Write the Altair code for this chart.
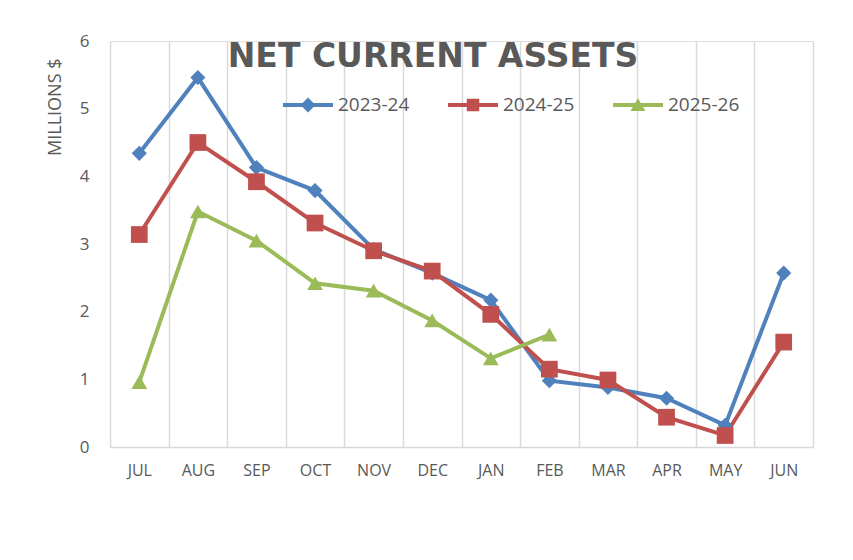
import altair as alt
import pandas as pd

months = ["JUL", "AUG", "SEP", "OCT", "NOV", "DEC", "JAN", "FEB", "MAR", "APR", "MAY", "JUN"]
series_names = ["2023-24", "2024-25", "2025-26"]
v_2023_24 = [4.34, 5.46, 4.13, 3.79, 2.92, 2.57, 2.17, 0.98, 0.88, 0.72, 0.32, 2.57]
v_2024_25 = [3.14, 4.50, 3.92, 3.31, 2.90, 2.60, 1.96, 1.15, 0.99, 0.44, 0.17, 1.55]
v_2025_26 = [0.96, 3.48, 3.05, 2.42, 2.31, 1.87, 1.31, 1.66]
colors = ["#4f81bd", "#c0504d", "#9bbb59"]
marker_shapes = ["diamond", "square", "triangle-up"]
chart_title = "NET CURRENT ASSETS"

rows = []
for name, vals in zip(series_names, [v_2023_24, v_2024_25, v_2025_26]):
    for m, v in zip(months, vals):
        rows.append({"month": m, "value": v, "series": name})
df = pd.DataFrame(rows)

TXT = "#595959"
GRID = "#d9d9d9"
FONT = "Open Sans"

x_enc = alt.X(
    "month:N",
    sort=months,
    scale=alt.Scale(type="band", domain=months, paddingInner=0, paddingOuter=0),
    axis=alt.Axis(
        title=None, labelAngle=0, tickBand="extent", grid=True, gridColor=GRID,
        gridWidth=1.5, ticks=False, domainColor=GRID, domainWidth=1.5,
        labelColor=TXT, labelFont=FONT, labelFontSize=16, labelPadding=15,
    ),
)
y_enc = alt.Y(
    "value:Q",
    scale=alt.Scale(domain=[0, 6], nice=False),
    axis=alt.Axis(
        values=[0, 1, 2, 3, 4, 5, 6], grid=False, ticks=False, domain=False,
        labelColor=TXT, labelFont=FONT, labelFontSize=17, labelPadding=21,
        title="MILLIONS $", titleColor=TXT, titleFont=FONT, titleFontSize=18,
        titleFontWeight="normal", titleAngle=270, titleAlign="right",
        titleBaseline="middle", titleX=-55, titleY=17,
    ),
)
color_scale = alt.Scale(domain=series_names, range=colors)

lines = alt.Chart(df).mark_line(strokeWidth=4).encode(
    x=x_enc, y=y_enc,
    color=alt.Color("series:N", scale=color_scale, legend=None),
)

point_layers = []
sizes = [230, 280, 250]
for name, shp, sz in zip(series_names, marker_shapes, sizes):
    point_layers.append(
        alt.Chart(df).transform_filter(alt.datum.series == name)
        .mark_point(shape=shp, filled=True, opacity=1, size=sz)
        .encode(x=x_enc, y=y_enc,
                color=alt.Color("series:N", scale=color_scale, legend=None))
    )

legend_paths = [
    "M-1,-0.08L1,-0.08L1,0.08L-1,0.08Z M0,-0.3L0.3,0L0,0.3L-0.3,0Z",
    "M-1,-0.08L1,-0.08L1,0.08L-1,0.08Z M-0.25,-0.25L0.25,-0.25L0.25,0.25L-0.25,0.25Z",
    "M-1,-0.08L1,-0.08L1,0.08L-1,0.08Z M0,-0.27L0.3,0.24L-0.3,0.24Z",
]
# legend-only layer: no data rows survive the filter, entries come from the scale domain
legend_layer = alt.Chart(df).transform_filter("false").mark_point(
    filled=True, opacity=1, size=2500
).encode(
    x=x_enc, y=y_enc,
    color=alt.Color(
        "series:N", scale=color_scale,
        legend=alt.Legend(
            title=None, orient="none", direction="horizontal", legendX=173,
            legendY=39, padding=0, columnPadding=38, labelOffset=5,
            labelFont=FONT, labelFontSize=19, labelColor=TXT, symbolSize=2500,
            symbolOpacity=1, symbolStrokeWidth=0,
        ),
    ),
    shape=alt.Shape("series:N", scale=alt.Scale(domain=series_names, range=legend_paths)),
)

title_layer = alt.Chart(pd.DataFrame({"t": [chart_title]})).mark_text(
    font="DejaVu Sans", fontSize=33, fontWeight="bold", color=TXT,
    align="center", baseline="alphabetic",
).encode(text="t:N", x=alt.value(323), y=alt.value(26))

chart = alt.layer(lines, *point_layers, legend_layer, title_layer).resolve_scale(
    color="independent", shape="independent"
).resolve_legend(color="independent", shape="independent").properties(
    width=703,
    height=406,
    autosize=alt.AutoSizeParams(type="none"),
    padding={"left": 102, "top": 33, "right": 20, "bottom": 80},
).configure_view(stroke=None).configure(background="white")

chart.save("out.html", embed_options={"renderer": "svg", "actions": False})
